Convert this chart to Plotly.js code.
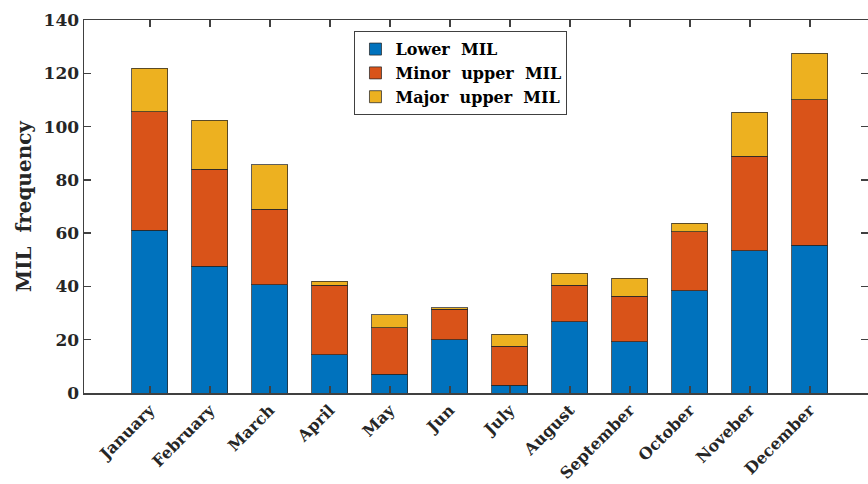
<!DOCTYPE html>
<html>
<head>
<meta charset="utf-8">
<script src="https://cdn.plot.ly/plotly-3.0.1.min.js"></script>
<style>
  html, body { margin: 0; padding: 0; background: white; }
  #plot { width: 868px; height: 484px; }
</style>
</head>
<body>
<div id="plot"></div>
<script>
// Monthly MIL frequency, stacked by class
const months = ['January', 'February', 'March', 'April', 'May', 'Jun',
                'July', 'August', 'September', 'October', 'Noveber', 'December'];
const lowerMIL = [61, 47.5, 40.6, 14.3, 7, 20, 3, 26.7, 19.2, 38.3, 53.3, 55.5];
const minorUpperMIL = [44.5, 36.5, 28.4, 26.2, 17.4, 11.5, 14.6, 13.8, 17.2, 22.2, 35.6, 54.5];
const majorUpperMIL = [16.3, 18.4, 16.6, 1.5, 5.0, 0.5, 4.5, 4.5, 6.6, 3.3, 16.4, 17.5];
const seriesNames = ['Lower\u00a0\u00a0MIL', 'Minor\u00a0\u00a0upper\u00a0\u00a0MIL', 'Major\u00a0\u00a0upper\u00a0\u00a0MIL'];
const yTicks = [0, 20, 40, 60, 80, 100, 120, 140];

const colors = ['#0072BD', '#D95319', '#EDB120'];
const textColor = '#262626';
const fontFamily = '"DejaVu Serif", "Liberation Serif", serif';

function barTrace(values, i) {
    return {
        x: months,
        y: values,
        type: 'bar',
        name: seriesNames[i],
        width: 0.6,
        marker: {
            color: colors[i],
            line: { color: 'rgba(40,40,40,0.75)', width: 1 }
        }
    };
}

const data = [
    barTrace(lowerMIL, 0),
    barTrace(minorUpperMIL, 1),
    barTrace(majorUpperMIL, 2)
];

const axisCommon = {
    showline: true,
    linecolor: '#404040',
    linewidth: 1.5,
    mirror: 'ticks',
    ticks: 'inside',
    ticklen: 7,
    tickwidth: 1.5,
    tickcolor: '#404040',
    showgrid: false,
    zeroline: false
};

const layout = {
    width: 868,
    height: 484,
    margin: { l: 84, r: 0, t: 20, b: 91 },
    paper_bgcolor: 'white',
    plot_bgcolor: 'white',
    barmode: 'stack',
    showlegend: true,
    xaxis: Object.assign({}, axisCommon, {
        type: 'category',
        range: [-1.1, 11.97],
        tickangle: -45,
        tickfont: { family: fontFamily, size: 16, color: textColor, weight: 'bold' }
    }),
    yaxis: Object.assign({}, axisCommon, {
        range: [0, 140],
        tickvals: yTicks,
        ticktext: yTicks.map(String),
        tickfont: { family: fontFamily, size: 17, color: textColor, weight: 'bold' },
        title: {
            text: 'MIL\u00a0\u00a0frequency',
            font: { family: fontFamily, size: 20, color: textColor, weight: 'bold' },
            standoff: 6
        }
    }),
    legend: {
        x: 0.345,
        y: 0.97,
        xanchor: 'left',
        yanchor: 'top',
        bgcolor: 'white',
        bordercolor: '#404040',
        borderwidth: 1,
        traceorder: 'normal',
        tracegroupgap: 0,
        font: { family: fontFamily, size: 16, color: '#000', weight: 'bold' }
    }
};

Plotly.newPlot('plot', data, layout, { displayModeBar: false, staticPlot: true });
</script>
</body>
</html>
